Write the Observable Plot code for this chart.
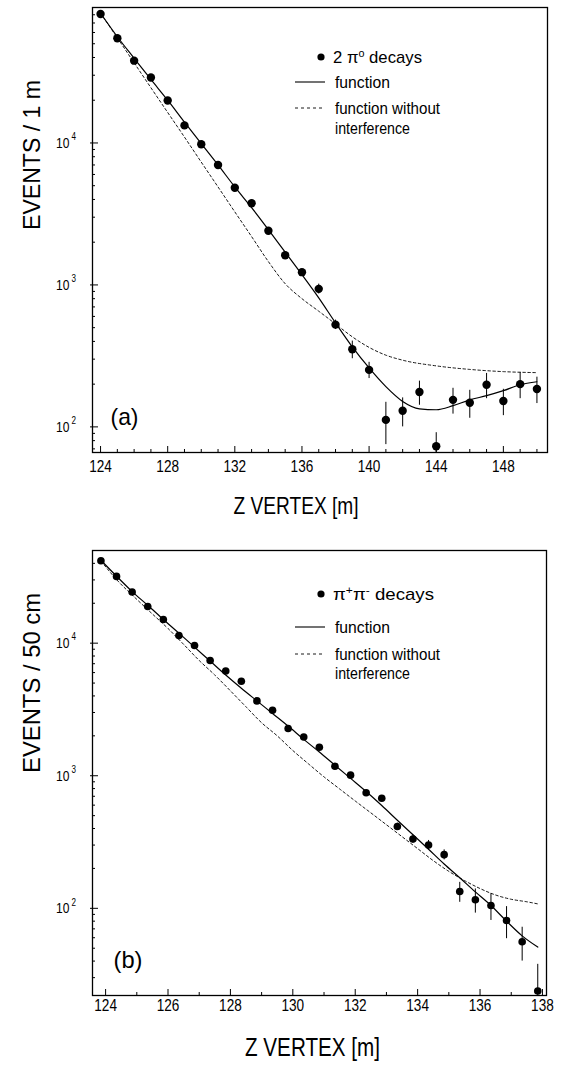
<!DOCTYPE html>
<html><head><meta charset="utf-8">
<script src="https://cdn.jsdelivr.net/npm/d3@7"></script>
<script src="https://cdn.jsdelivr.net/npm/@observablehq/plot@0.6"></script>
<style>
body{margin:0;background:#fff;}
#wrap{position:relative;width:563px;height:1074px;font-family:"Liberation Sans",Arial,Helvetica,sans-serif;}
#wrap svg{display:block}
#legend{position:absolute;left:0;top:0;pointer-events:none}
</style></head><body><div id="wrap"></div>
<script>
// ---------- panel (a): 2 pi0 decays, 1 m bins ----------
const topZ = [124,125,126,127,128,129,130,131,132,133,134,135,136,137,138,139,140,141,142,143,144,145,146,147,148,149,150];
const topN = [81000,54600,38000,28900,19900,13300,9800,7000,4840,3760,2410,1620,1230,938,525,352,252,112,130,176,73,155,148,198,152,200,185];
const topErr = [0,0,0,0,0,0,0,0,0,0,0,0,0,75,40,50,33,37,30,34,18,32,33,40,32,42,39];
const topFitZ = [124,125,126,127,128,129,130,131,132,133,134,135,136,137,138,139,140,141,142,143,144,145,146,147,148,149,150];
const topFit = [82000,56000,39500,28000,20000,14000,9900,7000,4900,3500,2450,1700,1180,810,540,366,260,192,151,134,132,141,155,166,180,198,208];
const topNoIntZ = [124,125,126,127,128,129,130,131,132,133,134,135,136,137,138,139,140,141,142,144,146,148,150];
const topNoInt = [82000,55000,36700,24500,16400,11000,7330,4900,3270,2190,1460,1020,800,653,531,431,363,320,295,269,254,245,241];

// ---------- panel (b): pi+ pi- decays, 50 cm bins ----------
const botZ = [123.85,124.35,124.85,125.35,125.85,126.35,126.85,127.35,127.85,128.35,128.85,129.35,129.85,130.35,130.85,131.35,131.85,132.35,132.85,133.35,133.85,134.35,134.85,135.35,135.85,136.35,136.85,137.35,137.85];
const botN = [41900,31900,24300,18900,15100,11400,9610,7410,6160,5160,3670,3120,2270,1960,1640,1180,1010,745,676,414,333,300,254,134,116,105,81,56,23.8];
const botErr = [0,0,0,0,0,0,0,0,0,0,0,0,0,0,0,0,0,35,30,25,24,25,22,23,24,24,22,16,14];
const botFit = [42200,32000,24500,19300,15100,11900,9330,7330,5750,4570,3670,2950,2370,1880,1510,1200,955,760,596,462,359,279,216,170,133,105,80,62,51];
const botNoIntZ = [123.85,124.35,125,125.5,126,126.5,127,127.5,128,128.5,129,129.5,130,130.5,131,131.5,132,132.5,133,133.5,134,134.5,135,135.5,136,136.5,137,137.5,137.85];
const botNoInt = [41700,30200,21400,16600,12900,9800,7400,5750,4370,3310,2510,2000,1550,1230,980,795,645,525,427,347,282,229,190,162,141,126,117,112,108];

// ---------- axis ticks / labels ----------
const topXLabels = [124,128,132,136,140,144,148];
const topXMinor = [125,126,127,129,130,131,133,134,135,137,138,139,141,142,143,145,146,147,149,150];
const botXLabels = [124,126,128,130,132,134,136,138];
const botXMinor = [125,127,129,131,133,135,137];
const decades = [100,1000,10000];
const decadeExp = ["2","3","4"];
const topYMinor = [70,80,90,200,300,400,500,600,700,800,900,2000,3000,4000,5000,6000,7000,8000,9000,20000,30000,40000,50000,60000,70000,80000];
const botYMinor = [30,40,50,60,70,80,90,200,300,400,500,600,700,800,900,2000,3000,4000,5000,6000,7000,8000,9000,20000,30000,40000];
const xTitle = "Z VERTEX [m]";
const topYTitle = "EVENTS / 1 m";
const botYTitle = "EVENTS / 50 cm";

const font = '"Liberation Sans",Arial,Helvetica,sans-serif';
const W = 563;

function panel(o) {
  const pts = o.z.map((z,i)=>({z, n:o.n[i], e:o.err[i]}));
  const fit = o.fitZ.map((z,i)=>({z, n:o.fit[i]}));
  const noint = o.noIntZ.map((z,i)=>({z, n:o.noInt[i]}));
  const plotW = W - o.ml - o.mr, plotH = o.height - o.mt - o.mb;
  return Plot.plot({
    width: W, height: o.height,
    marginLeft: o.ml, marginRight: o.mr, marginTop: o.mt, marginBottom: o.mb,
    x: {domain: o.xDomain, axis: null},
    y: {type: "log", domain: o.yDomain, axis: null},
    style: {background: "white", fontFamily: font, color: "black", overflow: "visible"},
    marks: [
      Plot.tickX(o.xMinor, {x: d=>d, insetTop: plotH - 3, stroke: "black", strokeWidth: 1}),
      Plot.tickX(o.xLabels, {x: d=>d, insetTop: plotH - 6, stroke: "black", strokeWidth: 1}),
      Plot.tickY(o.yMinor, {y: d=>d, insetRight: plotW - 3, stroke: "black", strokeWidth: 1}),
      Plot.tickY(decades, {y: d=>d, insetRight: plotW - 6, insetLeft: -2, stroke: "black", strokeWidth: 1}),
      Plot.text(o.xLabels, {x: d=>d, text: d=>String(d), frameAnchor: "bottom", dy: o.xLabDy, fontSize: 17}),
      Plot.text(decades, {y: d=>d, text: ()=>"10", frameAnchor: "left", textAnchor: "end", dx: -23, fontSize: 15}),
      Plot.text(decadeExp, {y: (d,i)=>decades[i], text: d=>d, frameAnchor: "left", textAnchor: "start", dx: -21, dy: -6, fontSize: 10}),
      Plot.text([xTitle], {text: d=>d, frameAnchor: "bottom", dx: o.titleDx, dy: o.titleDy, fontSize: o.titleSize}),
      Plot.text([o.yTitle], {text: d=>d, frameAnchor: "left", rotate: -90, dx: -60, fontSize: 24}),
      Plot.text([o.tag], {text: d=>d, frameAnchor: "bottom-left", textAnchor: "start", lineAnchor: "middle", dx: o.tagDx, dy: o.tagDy, fontSize: 24}),
      Plot.line(noint, {x: "z", y: "n", stroke: "black", strokeWidth: 0.9, strokeDasharray: "2.5,2.5", curve: "monotone-x", clip: true}),
      Plot.line(fit, {x: "z", y: "n", stroke: "black", strokeWidth: 1.2, curve: "monotone-x", clip: true}),
      Plot.ruleX(pts.filter(d=>d.e>0), {x: "z", y1: d=>d.n - d.e, y2: d=>d.n + d.e, stroke: "black", strokeWidth: 1, clip: true}),
      Plot.dot(pts, {x: "z", y: "n", r: o.r, fill: "black", stroke: "none"}),
      Plot.frame({stroke: "black", strokeWidth: 1.3})
    ]
  });
}

const wrap = document.getElementById("wrap");
const topSvg = panel({
  z: topZ, n: topN, err: topErr, fitZ: topFitZ, fit: topFit, noIntZ: topNoIntZ, noInt: topNoInt,
  height: 530, ml: 92, mr: 16, mt: 7, mb: 78,
  xDomain: [123.52, 150.63], yDomain: [66, 90000],
  xMinor: topXMinor, xLabels: topXLabels, yMinor: topYMinor,
  xLabDy: 19, titleDx: -24, titleDy: 61, titleSize: 24, yTitle: topYTitle,
  tag: "(a)", tagDx: 18, tagDy: -35, r: 4.2
});
const botSvg = panel({
  z: botZ, n: botN, err: botErr, fitZ: botZ, fit: botFit, noIntZ: botNoIntZ, noInt: botNoInt,
  height: 544, ml: 92, mr: 17, mt: 20, mb: 79,
  xDomain: [123.58, 138.13], yDomain: [22, 50000],
  xMinor: botXMinor, xLabels: botXLabels, yMinor: botYMinor,
  xLabDy: 15, titleDx: -7, titleDy: 60, titleSize: 25.5, yTitle: botYTitle,
  tag: "(b)", tagDx: 21, tagDy: -35, r: 3.8
});
wrap.appendChild(topSvg);
wrap.appendChild(botSvg);

// narrow typeface look: condense texts; a few get an explicit width
const widths = [
  {"EVENTS / 1 m": 150, "Z VERTEX [m]": 125, "(a)": 28},
  {"EVENTS / 50 cm": 180, "Z VERTEX [m]": 135, "(b)": 29}
];
[topSvg, botSvg].forEach((svg, k) => {
  svg.querySelectorAll("text").forEach(t => {
    const L = t.getComputedTextLength();
    if (!(L > 0)) return;
    const target = widths[k][t.textContent] ?? L*0.8;
    t.setAttribute("textLength", target.toFixed(1));
    t.setAttribute("lengthAdjust", "spacingAndGlyphs");
  });
});

// ---------- legends ----------
const legTop = {y0: 57, y1: 82, y2: 108, y3: 128};
const legBot = {y0: 594, y1: 627, y2: 654, y3: 673};
const legFn = "function", legNo1 = "function without", legNo2 = "interference";
function legendBlock(L, first) {
  return `
  <circle cx="321" cy="${L.y0}" r="3.6" fill="black"/>
  ${first}
  <line x1="295" x2="325" y1="${L.y1}" y2="${L.y1}" stroke="black" stroke-width="1.1"/>
  <text x="335" y="${L.y1}" dy="0.35em" textLength="55" lengthAdjust="spacingAndGlyphs">${legFn}</text>
  <line x1="295" x2="325" y1="${L.y2}" y2="${L.y2}" stroke="black" stroke-width="0.9" stroke-dasharray="3,3"/>
  <text x="335" y="${L.y2}" dy="0.35em" textLength="105" lengthAdjust="spacingAndGlyphs">${legNo1}</text>
  <text x="335" y="${L.y3}" dy="0.35em" textLength="75" lengthAdjust="spacingAndGlyphs">${legNo2}</text>`;
}
const leg = document.createElementNS("http://www.w3.org/2000/svg","svg");
leg.setAttribute("id","legend"); leg.setAttribute("width", W); leg.setAttribute("height", 1074);
leg.setAttribute("font-family", font); leg.setAttribute("font-size", "17");
leg.innerHTML =
  legendBlock(legTop, `<text x="333" y="${legTop.y0}" dy="0.35em" textLength="89" lengthAdjust="spacingAndGlyphs">2 π<tspan font-size="11" dy="-6">o</tspan><tspan dy="6"> decays</tspan></text>`) +
  legendBlock(legBot, `<text x="333" y="${legBot.y0}" dy="0.35em" textLength="101" lengthAdjust="spacingAndGlyphs">π<tspan font-size="11" dy="-6">+</tspan><tspan dy="6">π</tspan><tspan font-size="11" dy="-6">-</tspan><tspan dy="6"> decays</tspan></text>`);
wrap.appendChild(leg);
</script>
</body></html>
